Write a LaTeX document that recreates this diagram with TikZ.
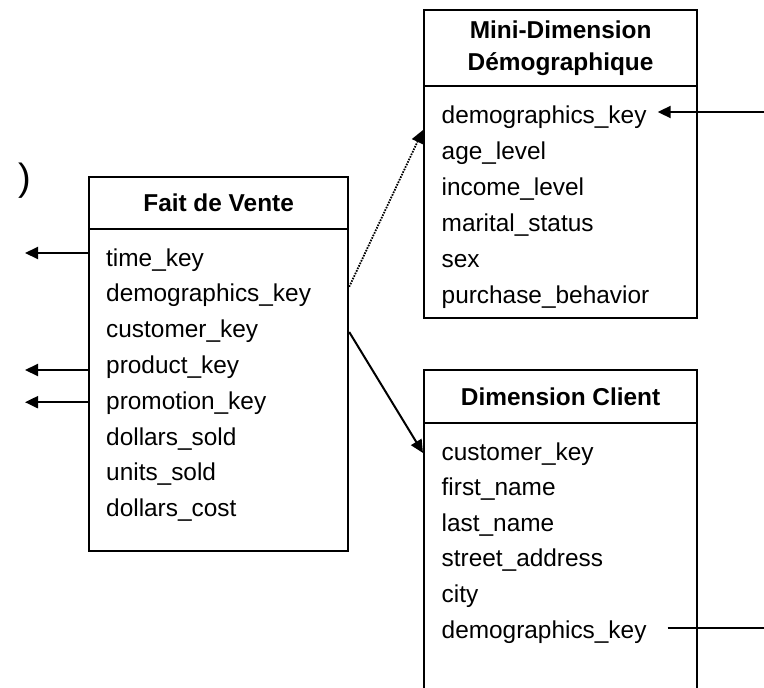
\documentclass[tikz,border=0pt]{standalone}
\usepackage{fontspec}
\setmainfont{Liberation Sans}
\usetikzlibrary{arrows.meta,calc}
\newcommand{\rowfont}{\fontsize{24.4}{32}\selectfont}
\newcommand{\headfont}{\fontsize{24.4}{32}\selectfont\bfseries}
\begin{document}
\begin{tikzpicture}[x=1pt,y=-1pt,
  tblbox/.style={draw,line width=2.2pt,inner sep=0pt,anchor=north west},
  tblhead/.style={tblbox,font=\headfont,align=center},
  field/.style={anchor=base west,inner sep=0pt,font=\rowfont},
  fk/.style={line width=2pt,-{Triangle[length=13pt,width=12pt]}},
  fkdot/.style={line width=1.8pt,dash pattern=on 1.6pt off 1.2pt,-{Triangle[length=13pt,width=12pt]}},
  plainlink/.style={line width=2pt}]
\useasboundingbox (0,0) rectangle (764,688);
\clip (0,0) rectangle (764,688);

% stray closing parenthesis at the upper left
\node[inner sep=0pt,font=\fontsize{38}{40}\selectfont] (paren) at (25,181) {)};

% fact table
\node[tblhead,minimum width=259pt,minimum height=52pt] (faith) at (88,176) {Fait de Vente};
\node[tblbox,minimum width=259pt,minimum height=322pt] (faitb) at (88,228) {};
\node[field] (f1) at (106,266.0) {time\_key};
\node[field] (f2) at (106,301.8) {demographics\_key};
\node[field] (f3) at (106,337.6) {customer\_key};
\node[field] (f4) at (106,373.4) {product\_key};
\node[field] (f5) at (106,409.2) {promotion\_key};
\node[field] (f6) at (106,445.0) {dollars\_sold};
\node[field] (f7) at (106,480.8) {units\_sold};
\node[field] (f8) at (106,516.6) {dollars\_cost};

% demographic mini-dimension
\node[tblhead,minimum width=273pt,minimum height=76pt] (minih) at (423,9) {Mini-Dimension\\Démographique};
\node[tblbox,minimum width=273pt,minimum height=232pt] (minib) at (423,85) {};
\node[field] (m1) at (441.5,123) {demographics\_key};
\node[field] (m2) at (441.5,159) {age\_level};
\node[field] (m3) at (441.5,195) {income\_level};
\node[field] (m4) at (441.5,231) {marital\_status};
\node[field] (m5) at (441.5,267) {sex};
\node[field] (m6) at (441.5,303) {purchase\_behavior};

% customer dimension
\node[tblhead,minimum width=273pt,minimum height=53pt] (clih) at (423,369) {Dimension Client};
\node[tblbox,minimum width=273pt,minimum height=300pt] (clib) at (423,422) {};
\node[field] (c1) at (441.5,460.0) {customer\_key};
\node[field] (c2) at (441.5,495.6) {first\_name};
\node[field] (c3) at (441.5,531.2) {last\_name};
\node[field] (c4) at (441.5,566.8) {street\_address};
\node[field] (c5) at (441.5,602.4) {city};
\node[field] (c6) at (441.5,638.0) {demographics\_key};

% connector anchor points
\coordinate (lx) at (25,0);
\coordinate (rx) at (764,0);
\coordinate (kf1) at ([yshift=13pt]f1.base);
\coordinate (kf2) at ([yshift=15pt]f2.base);
\coordinate (kf3) at ([yshift=5.6pt]f3.base);
\coordinate (kf4) at ([yshift=3.4pt]f4.base);
\coordinate (kf5) at ([yshift=7pt]f5.base);
\coordinate (km1) at ([xshift=11pt,yshift=11pt]m1.base east);
\coordinate (km1in) at ([yshift=-7pt]m1.base);
\coordinate (kc1) at ([yshift=7pt]c1.base);
\coordinate (kc6) at ([xshift=21pt,yshift=10pt]c6.base east);

% outgoing keys on the left
\draw[fk] (faitb.west |- kf1) -- (lx |- kf1);
\draw[fk] (faitb.west |- kf4) -- (lx |- kf4);
\draw[fk] (faitb.west |- kf5) -- (lx |- kf5);

% fact table to dimensions
\draw[fkdot] (faitb.east |- kf2) -- (minib.west |- km1in);
\draw[fk] (faitb.east |- kf3) -- (clib.west |- kc1);

% links leaving on the right
\draw[fk] (rx |- km1) -- (km1);
\draw[plainlink] (kc6) -- (rx |- kc6);
\end{tikzpicture}
\end{document}
